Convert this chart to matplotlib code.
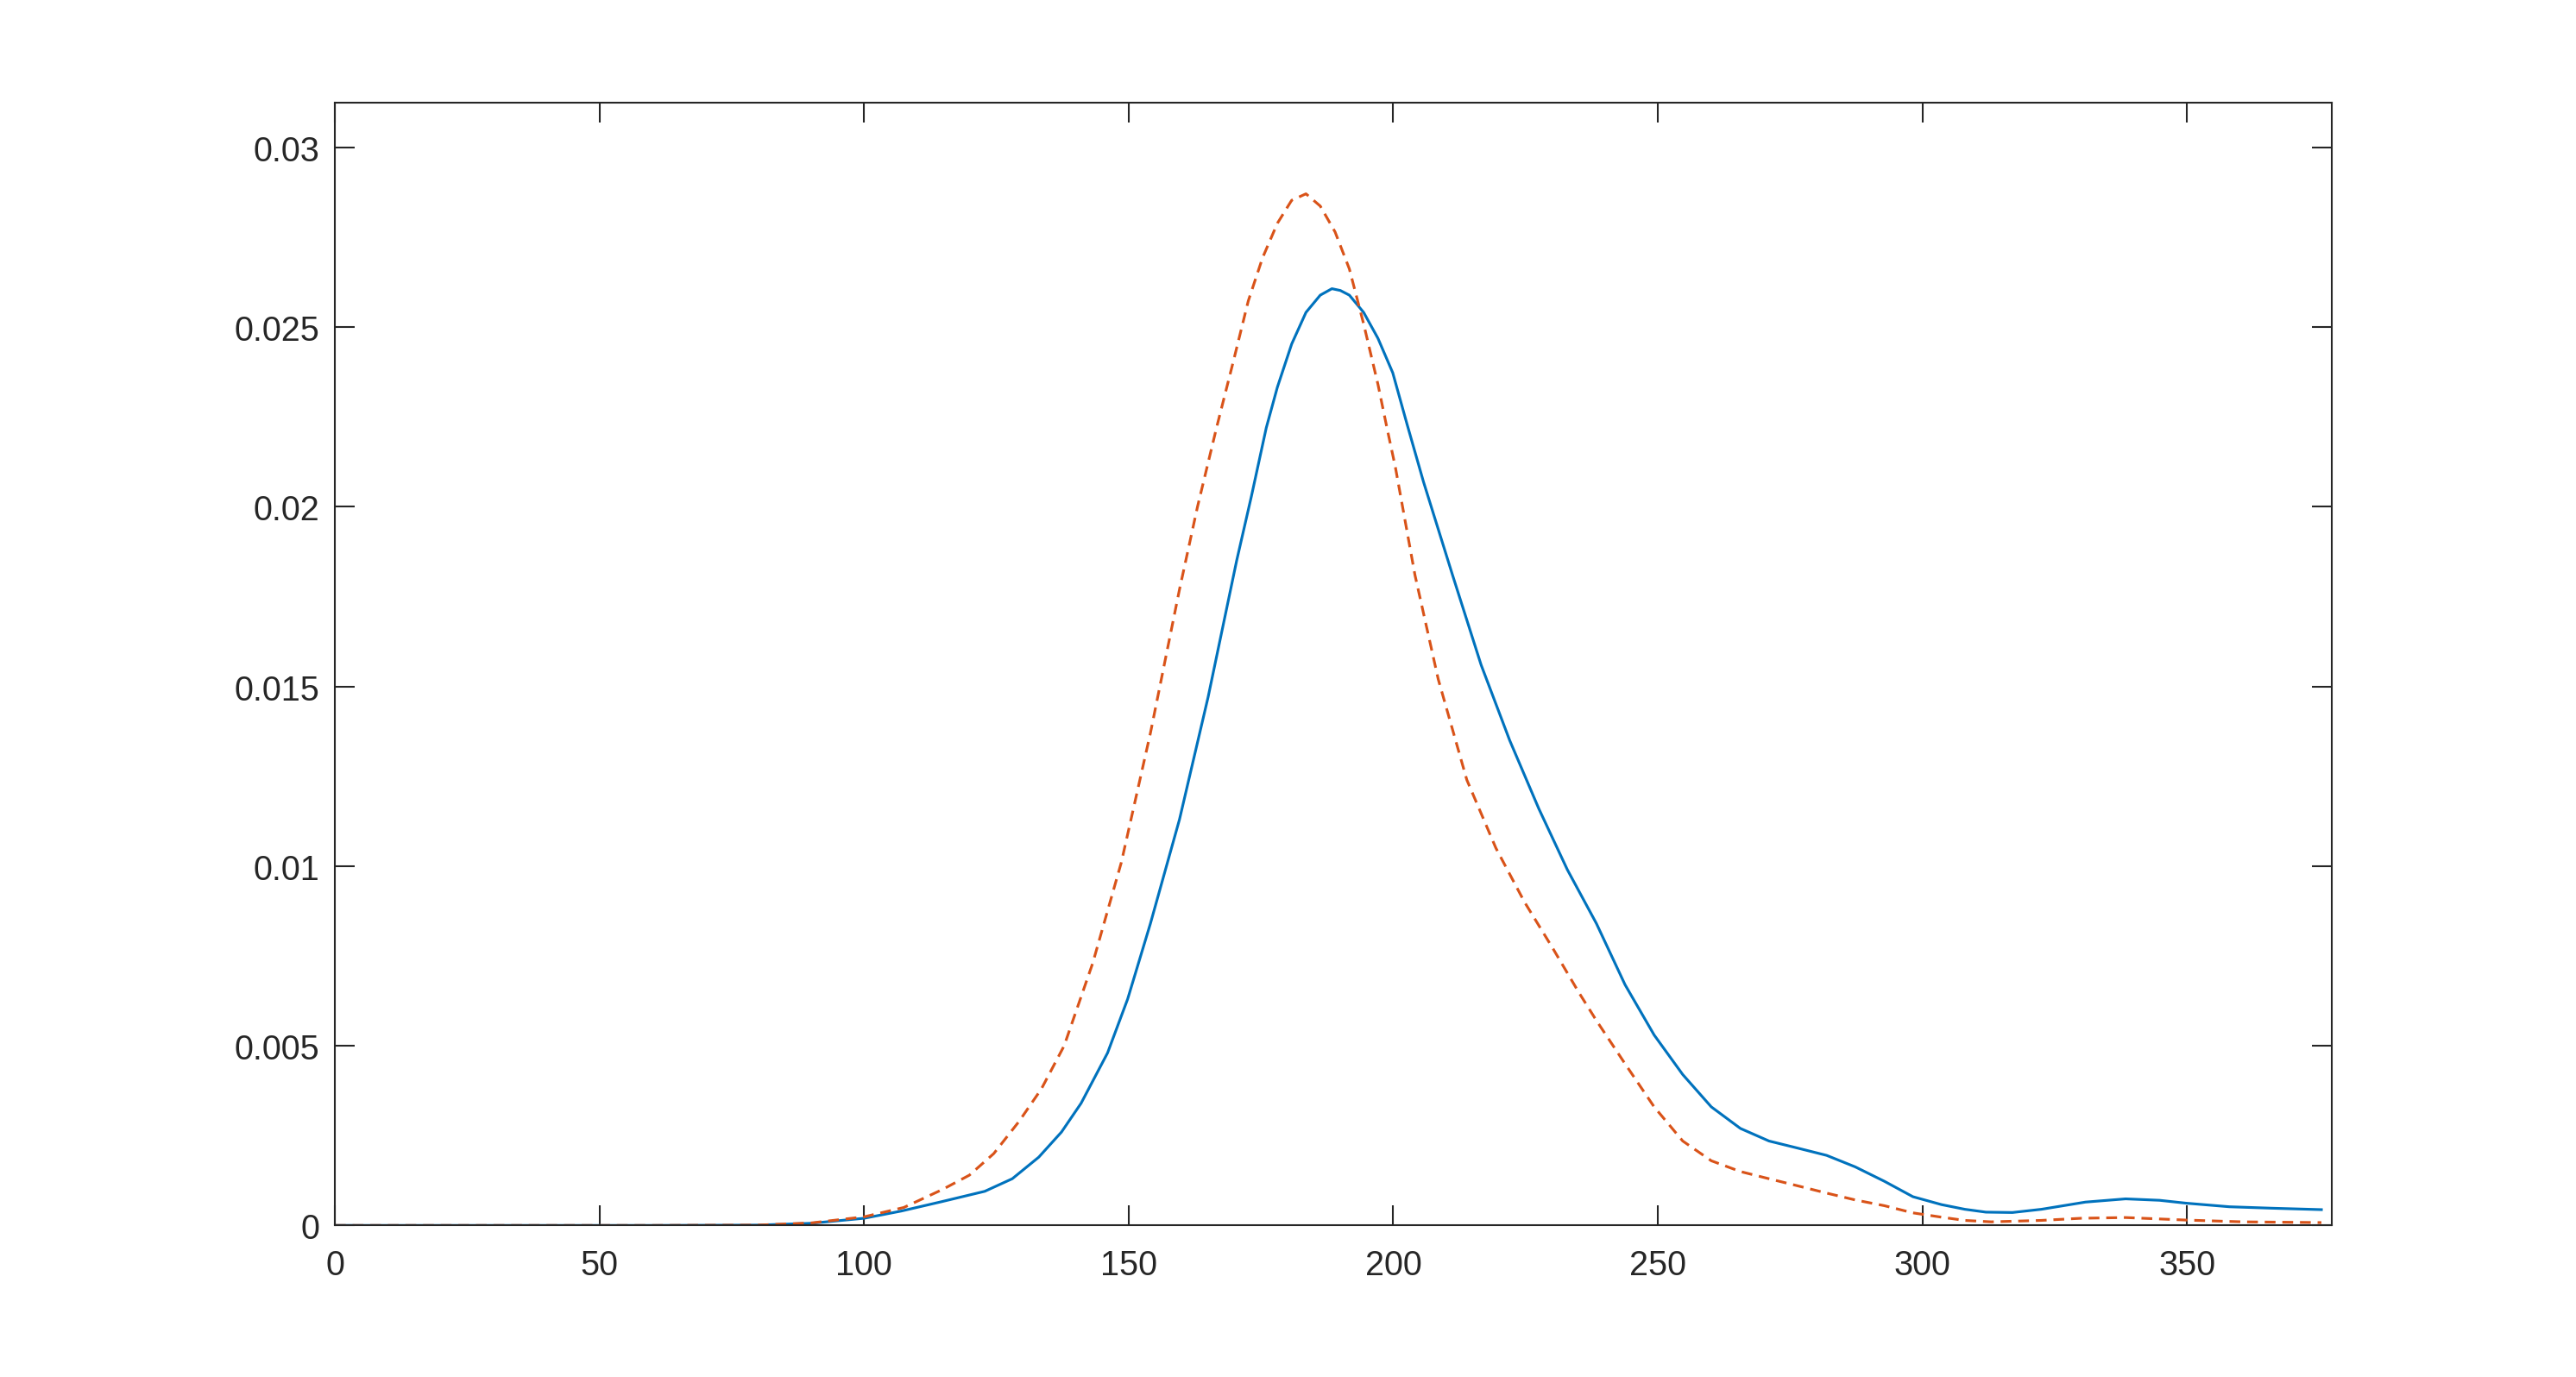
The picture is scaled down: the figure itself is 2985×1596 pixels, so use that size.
import matplotlib
matplotlib.use("Agg")
import matplotlib.pyplot as plt

# ── data ─────────────────────────────────────────────────────────────────────
blue_x = [0, 60, 80, 90, 100, 107, 114.6, 122.8, 128, 133, 137.3, 141, 146,
          149.8, 154.1, 159.6, 165, 170.4, 173.2, 176, 178.1, 180.8, 183.5,
          186.2, 188.4, 190, 191.7, 194.4, 197.1, 199.9, 202.6, 205.7, 211.2,
          216.6, 222, 227.5, 232.9, 238.4, 243.8, 249.3, 254.7, 260.1, 265.6,
          271, 276.5, 281.9, 287.3, 292.8, 298.2, 303.6, 308, 312, 317, 322.5,
          330.8, 338.4, 344.8, 349.8, 358, 366, 375.4]
blue_y = [0, 0, 0.00001, 0.00006, 0.0002, 0.0004, 0.00066, 0.00095, 0.0013,
          0.0019, 0.0026, 0.0034, 0.0048, 0.0063, 0.0084, 0.0113, 0.0147,
          0.0185, 0.0203, 0.0222, 0.02333, 0.02453, 0.02541, 0.02589, 0.02607,
          0.02602, 0.02589, 0.02541, 0.02469, 0.02373, 0.0223, 0.0207, 0.0181,
          0.0156, 0.0135, 0.0116, 0.0099, 0.0084, 0.0067, 0.0053, 0.0042,
          0.0033, 0.0027, 0.00235, 0.00215, 0.00195, 0.00163, 0.00123, 0.0008,
          0.00058, 0.00045, 0.00037, 0.00036, 0.00045, 0.00065, 0.00074,
          0.0007, 0.00062, 0.00052, 0.00048, 0.00044]

red_x = [0, 60, 80, 90, 100, 107.5, 114.8, 119.9, 124.5, 129.3, 133.5, 137.8,
         143.2, 148.6, 154.1, 159.6, 163, 166.6, 169.9, 172.6, 175.3, 178.1,
         180.8, 183.5, 186.2, 189, 191.7, 194.4, 197.1, 198.8, 200.4, 204.1,
         208.5, 213.9, 219.4, 224.8, 230.2, 235, 238.4, 243.8, 249.3, 254.7,
         260.1, 265.6, 271, 276.5, 281.9, 287.3, 292.8, 298.2, 303.6, 308, 313,
         322.4, 330, 338.4, 349.8, 360.6, 375.4]
red_y = [0, 0, 0.00001, 0.00007, 0.00024, 0.0005, 0.001, 0.0014, 0.0020,
         0.0029, 0.0038, 0.0050, 0.0073, 0.0101, 0.0137, 0.0177, 0.0200,
         0.0222, 0.02412, 0.02573, 0.02693, 0.02789, 0.02853, 0.02871,
         0.02837, 0.02765, 0.02662, 0.02509, 0.02341, 0.0222, 0.0211, 0.0181,
         0.0152, 0.0124, 0.0105, 0.0090, 0.0077, 0.0065, 0.0057, 0.0045,
         0.0033, 0.00235, 0.0018, 0.0015, 0.0013, 0.0011, 0.0009, 0.00071,
         0.00055, 0.00035, 0.00023, 0.00014, 0.0001, 0.00014, 0.0002, 0.00022,
         0.00015, 0.0001, 0.00008]

x_ticks = [0, 50, 100, 150, 200, 250, 300, 350]
y_ticks = [0, 0.005, 0.01, 0.015, 0.02, 0.025, 0.03]
y_labels = ["0", "0.005", "0.01", "0.015", "0.02", "0.025", "0.03"]

# ── figure ───────────────────────────────────────────────────────────────────
plt.rcParams["font.family"] = ["Liberation Sans", "DejaVu Sans"]
plt.rcParams["lines.scale_dashes"] = False
AX_COL = "#262626"

fig = plt.figure(figsize=(9.953, 5.323), dpi=300)
ax = fig.add_axes([0.13, 0.11, 0.775, 0.815])

ax.plot(blue_x, blue_y, color="#0072BD", lw=0.75)
ax.plot(red_x, red_y, color="#D95319", lw=0.75, dashes=(3.0, 1.9))

ax.set_xlim(0, 377.4)
ax.set_ylim(0, 0.03125)
ax.set_xticks(x_ticks)
ax.set_xticklabels([str(t) for t in x_ticks])
ax.set_yticks(y_ticks)
ax.set_yticklabels(y_labels)

ax.tick_params(direction="in", length=5.5, width=0.5, colors=AX_COL,
               labelsize=9.5, top=True, right=True)
ax.tick_params(axis="x", pad=6.5)
ax.tick_params(axis="y", pad=4.2)
for s in ax.spines.values():
    s.set_linewidth(0.5)
    s.set_color(AX_COL)

fig.savefig("out.png", dpi=300, facecolor="white")
